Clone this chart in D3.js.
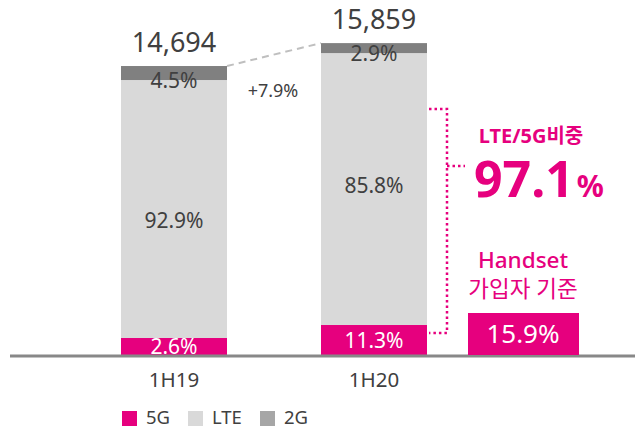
<!DOCTYPE html>
<html><head><meta charset="utf-8">
<script src="https://cdn.jsdelivr.net/npm/d3@7"></script>
<style>body{margin:0;background:#fff}svg{display:block}text{font-family:"Noto Sans","Noto Sans CJK KR",sans-serif}</style>
</head><body><div id="c"></div>
<script>
const categories = ["1H19", "1H20"];
const totals = [14694, 15859];
const totalLabels = ["14,694", "15,859"];
// segment sizes as drawn (subscribers, thousand)
const fiveG = [864, 1525];
const lte = [13118, 13826];
const twoG = [712, 508];
const fiveGPct = ["2.6%", "11.3%"];
const ltePct = ["92.9%", "85.8%"];
const twoGPct = ["4.5%", "2.9%"];
const growthLabel = "+7.9%";
const legendItems = ["5G", "LTE", "2G"];

const W = 635, H = 429;
const magenta = "#e6007e", dark = "#404040";
const colors = {"5G": magenta, "LTE": "#d9d9d9", "2G": "#808080"};
const legendColors = {"5G": magenta, "LTE": "#d9d9d9", "2G": "#a6a6a6"};

const svg = d3.select("#c").append("svg").attr("width", W).attr("height", H);

const xb = d3.scaleBand().domain(categories).range([121, 427]).paddingInner(0.47).paddingOuter(0);
const y = d3.scaleLinear().domain([0, 18000]).range([355, 1]);

const data = categories.map((c, i) => ({c, segs: [
  {k: "5G", v: fiveG[i], lab: fiveGPct[i]},
  {k: "LTE", v: lte[i], lab: ltePct[i]},
  {k: "2G", v: twoG[i], lab: twoGPct[i]}
]}));

const lteLabelOffset = [19, 4];

data.forEach((d, i) => {
  let acc = 0;
  d.segs.forEach(s => { s.y0 = acc; acc += s.v; s.y1 = acc; });
  const g = svg.append("g");
  g.selectAll("rect").data(d.segs).join("rect")
    .attr("x", xb(d.c)).attr("width", xb.bandwidth())
    .attr("y", s => y(s.y1)).attr("height", s => y(s.y0) - y(s.y1))
    .attr("fill", s => colors[s.k]);
  const cx = xb(d.c) + xb.bandwidth() / 2;
  const s5 = d.segs[0], sL = d.segs[1];
  g.append("text").attr("x", cx).attr("y", (y(s5.y0) + y(s5.y1)) / 2 + 7.5).attr("text-anchor", "middle")
    .attr("font-size", 21).attr("fill", "#fff").text(s5.lab);
  g.append("text").attr("x", cx).attr("y", (y(sL.y0) + y(sL.y1)) / 2 + lteLabelOffset[i]).attr("text-anchor", "middle")
    .attr("font-size", 21).attr("fill", dark).text(sL.lab);
  g.append("text").attr("x", cx).attr("y", y(sL.y1) + 7.5).attr("text-anchor", "middle")
    .attr("font-size", 21).attr("fill", dark).text(d.segs[2].lab);
  g.append("text").attr("x", cx).attr("y", y(totals[i]) - 14).attr("text-anchor", "middle")
    .attr("font-size", 27).attr("fill", dark).text(totalLabels[i]);
  svg.append("text").attr("x", cx).attr("y", 387).attr("text-anchor", "middle")
    .attr("font-size", 20.5).attr("fill", dark).text(d.c);
});

// dashed growth line
svg.append("line")
  .attr("x1", xb(categories[0]) + xb.bandwidth()).attr("y1", y(totals[0]))
  .attr("x2", xb(categories[1])).attr("y2", y(totals[1]))
  .attr("stroke", "#bfbfbf").attr("stroke-width", 2).attr("stroke-dasharray", "7,5");
svg.append("text").attr("x", 273).attr("y", 97).attr("text-anchor", "middle")
  .attr("font-size", 18).attr("fill", dark).text(growthLabel);

// baseline axis
svg.append("line").attr("x1", 10).attr("x2", 635).attr("y1", 356).attr("y2", 356)
  .attr("stroke", "#888").attr("stroke-width", 3);

// dotted bracket
const bx0 = xb(categories[1]) + xb.bandwidth() + 2, bx1 = 447;
const bTop = y(fiveG[1] + lte[1]) + 56, bBot = y(fiveG[1]) + 8;
svg.append("path")
  .attr("d", `M${bx0},${bTop}H${bx1}V${bBot}H${bx0}M${bx1},166H465`)
  .attr("fill", "none").attr("stroke", magenta).attr("stroke-width", 2.5).attr("stroke-dasharray", "2.5,3");

// annotation
svg.append("text").attr("x", 531).attr("y", 143).attr("text-anchor", "middle")
  .attr("font-size", 20).attr("font-weight", 700).attr("fill", magenta).text("LTE/5G비중");
const big = svg.append("text").attr("x", 474).attr("y", 197).attr("fill", magenta).attr("font-weight", 700);
big.append("tspan").attr("font-size", 50).text("97.1");
big.append("tspan").attr("font-size", 30).attr("dx", 3).text("%");
svg.append("text").attr("x", 523).attr("y", 268).attr("text-anchor", "middle")
  .attr("font-size", 22.5).attr("font-weight", 500).attr("fill", magenta).text("Handset");
svg.append("text").attr("x", 523).attr("y", 297).attr("text-anchor", "middle")
  .attr("font-size", 22.5).attr("fill", magenta).text("가입자 기준");
svg.append("rect").attr("x", 468).attr("y", 313).attr("width", 111).attr("height", 42).attr("fill", magenta);
svg.append("text").attr("x", 523).attr("y", 343).attr("text-anchor", "middle")
  .attr("font-size", 26).attr("fill", "#fff").text("15.9%");

// legend
const lx = [122, 188, 260];
legendItems.forEach((k, i) => {
  svg.append("rect").attr("x", lx[i]).attr("y", 411).attr("width", 15).attr("height", 15).attr("fill", legendColors[k]);
  svg.append("text").attr("x", lx[i] + 24).attr("y", 423.5).attr("font-size", 18.5).attr("fill", dark).text(k);
});
</script></body></html>
